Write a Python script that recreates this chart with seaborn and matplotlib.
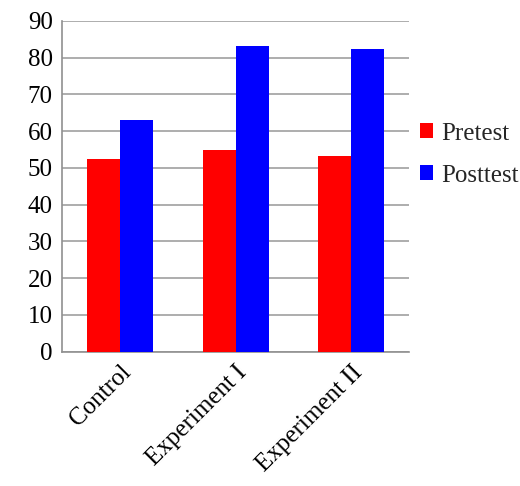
import pandas as pd
import matplotlib.pyplot as plt
import seaborn as sns

groups = ['Control', 'Experiment I', 'Experiment II']
pretest = [52.3, 54.8, 53.1]
posttest = [63.1, 83.1, 82.3]

df = pd.DataFrame({
    'Group': groups * 2,
    'Test': ['Pretest'] * 3 + ['Posttest'] * 3,
    'Score': pretest + posttest,
})

sns.set_style('white')
plt.rcParams['font.family'] = ['Liberation Serif', 'DejaVu Serif']

fig = plt.figure(figsize=(5.2, 4.86), dpi=100)
ax = fig.add_axes([0.12, 0.2763, 0.667, 0.681])

sns.barplot(data=df, x='Group', y='Score', hue='Test',
            palette={'Pretest': '#ff0000', 'Posttest': '#0000ff'},
            width=0.57, gap=0, saturation=1, linewidth=0, ax=ax, zorder=3)

ax.set_ylim(0, 90)
ax.set_yticks(range(0, 91, 10))
ax.set_xlim(-0.5, 2.5)
ax.grid(True, axis='y', color='#a0a0a0', linewidth=1.2, zorder=0)
ax.set_axisbelow(True)
for s in ['top', 'right']:
    ax.spines[s].set_visible(False)
for s in ['left', 'bottom']:
    ax.spines[s].set_color('#909090')
    ax.spines[s].set_linewidth(1.2)
ax.tick_params(length=0, labelsize=18, colors='black', pad=7)
plt.setp(ax.get_xticklabels(), rotation=45, ha='right', rotation_mode='anchor')
ax.set_xlabel('')
ax.set_ylabel('')

ax.legend(loc='center left', bbox_to_anchor=(0.965, 0.595), frameon=False,
          fontsize=18, handlelength=0.55, handleheight=0.55,
          handletextpad=0.3, labelspacing=0.8)

fig.savefig('out.png', dpi=100)
